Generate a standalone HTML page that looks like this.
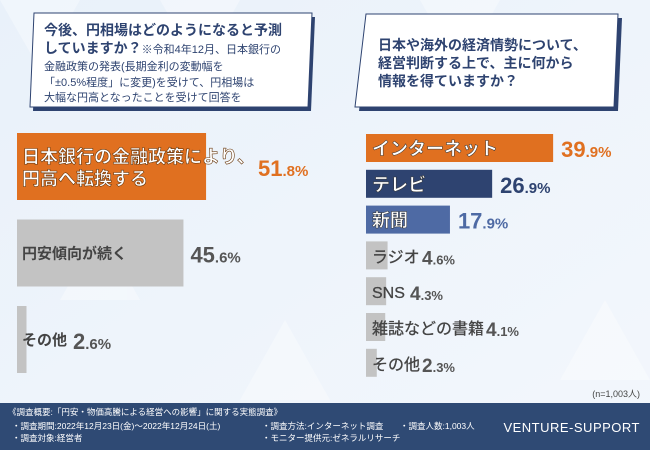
<!DOCTYPE html>
<html><head><meta charset="utf-8"><style>
body{margin:0;width:650px;height:450px;overflow:hidden;font-family:"Liberation Sans","Noto Sans CJK JP",sans-serif;}
svg text{font-family:"Liberation Sans","Noto Sans CJK JP",sans-serif;}
</style></head><body>
<svg id="c" width="650" height="450" viewBox="0 0 650 450">
<defs><linearGradient id="bg" x1="0" y1="0" x2="1" y2="1"><stop offset="0" stop-color="#e9f1fa"/><stop offset="1" stop-color="#f3f7fc"/></linearGradient></defs>
<rect width="650" height="450" fill="url(#bg)"/>
<g opacity="0.35" fill="#ffffff">
<polygon points="0,0 80,0 40,70"/><polygon points="160,0 240,0 200,70"/><polygon points="420,0 500,0 460,70"/><polygon points="560,380 650,380 605,300"/><polygon points="240,400 330,400 285,320"/><polygon points="60,300 140,300 100,230"/>
</g>
<g>
<polygon points="37,17 315,17 311,111 33,111" fill="#2e4370"/>
<polygon points="34,13 312,13 308,107 30,107" fill="#fff" stroke="#2e4370" stroke-width="1"/>
<text x="44" y="35" font-size="14" fill="#2e4370" font-weight="bold">今後、円相場はどのようになると予測</text>
<text x="44" y="53" font-size="14" fill="#2e4370" font-weight="bold">していますか？<tspan font-size="11" font-weight="normal">※令和4年12月、日本銀行の</tspan></text>
<text x="44" y="70" font-size="11" fill="#2e4370">金融政策の発表(長期金利の変動幅を</text>
<text x="44" y="86" font-size="11" fill="#2e4370">「±0.5%程度」に変更)を受けて、円相場は</text>
<text x="44" y="101" font-size="11" fill="#2e4370">大幅な円高となったことを受けて回答を</text>
</g>
<g>
<polygon points="370,18 622,18 618,111 359,111" fill="#2e4370"/>
<polygon points="366,14 618,14 614,107 355,107" fill="#fff" stroke="#2e4370" stroke-width="1"/>
<text x="378" y="50" font-size="14" fill="#2e4370" font-weight="bold">日本や海外の経済情勢について、</text>
<text x="378" y="68" font-size="14" fill="#2e4370" font-weight="bold">経営判断する上で、主に何から</text>
<text x="378" y="86" font-size="14" fill="#2e4370" font-weight="bold">情報を得ていますか？</text>
</g>
<g id="left"></g><g id="right"></g>
<text x="640" y="397" font-size="9" fill="#444" text-anchor="end">(n=1,003人)</text>
<g>
<rect x="0" y="403" width="650" height="47" fill="#2f4a74"/>
<g font-size="8.5" fill="#fff">
<text x="8" y="415">《調査概要:「円安・物価高騰による経営への影響」に関する実態調査》</text>
<text x="12" y="429">・調査期間:2022年12月23日(金)～2022年12月24日(土)</text>
<text x="12" y="441">・調査対象:経営者</text>
<text x="262" y="429">・調査方法:インターネット調査</text>
<text x="262" y="441">・モニター提供元:ゼネラルリサーチ</text>
<text x="400" y="429">・調査人数:1,003人</text>
</g>
<text x="640" y="432" font-size="13" fill="#fff" text-anchor="end" letter-spacing="0.5">VENTURE-SUPPORT</text>
</g>
</svg>
<script>
const leftCats=["日本銀行の金融政策により、|円高へ転換する","円安傾向が続く","その他"];
const leftVals=[51.8,45.6,2.6];
const rightCats=["インターネット","テレビ","新聞","ラジオ","SNS","雑誌などの書籍","その他"];
const rightVals=[39.9,26.9,17.9,4.6,4.3,4.1,2.3];
const NS="http://www.w3.org/2000/svg";
function mk(t,a,p){const e=document.createElementNS(NS,t);for(const k in a)e.setAttribute(k,a[k]);p.appendChild(e);return e;}
const lx=v=>v*3.65, rx=v=>v*4.69;
const L=document.getElementById('left'),R=document.getElementById('right');
const lcol=["#e07020","#c3c3c3","#c3c3c3"], lval=["#e07020","#555","#555"];
leftVals.forEach((v,i)=>{
 const y=133+i*86.5,w=lx(v);
 const r=mk('rect',{x:17,y:y,width:w,height:67,fill:lcol[i]},L);
 
 
 const parts=leftCats[i].split('|');
 const big=i==0;
 const t=mk('text',{x:22,y:big?y+30:y+39,'font-size':big?18:15,'font-weight':'bold',fill:big?'#fff':'#444',stroke:big?'#6a3a10':'none','stroke-width':big?0.6:0},L);
 
 
 parts.forEach((p,j)=>{const s=mk('tspan',{x:22,dy:j?22:0},t);s.textContent=p;});
 const s=v.toFixed(1).split('.');
 const vx=big?258:(i==2?73:17+w+7);
 const vt=mk('text',{x:vx,y:y+43,'font-size':22,'font-weight':'bold',fill:lval[i]},L);
 
 
 vt.innerHTML=s[0]+'<tspan font-size="15">.'+s[1]+'%</tspan>';
});
const rcol=["#e07020","#2e4370","#4e6aa4","#c3c3c3","#c3c3c3","#c3c3c3","#c3c3c3"];
const rval=["#e07020","#2e4370","#4e6aa4","#555","#555","#555","#555"];
rightVals.forEach((v,i)=>{
 const y=134+i*35.8,w=rx(v);
 const r=mk('rect',{x:366,y:y,width:w,height:28,fill:rcol[i]},R);
 
 
 const big=i<3;
 const t=mk('text',{x:372,y:y+21,'font-size':big?18:16,'font-weight':big?'bold':'normal',fill:big?'#fff':'#444',stroke:big?'#333':'#444','stroke-width':big?0.5:0.3},R);
 
 
 t.textContent=rightCats[i];
 const lw=big?0:(rightCats[i]=="SNS"?36:rightCats[i].length*16);
 const s=v.toFixed(1).split('.');
 const vt=mk('text',{x:big?366+w+8:374+lw,y:y+23,'font-size':big?22:19,'font-weight':'bold',fill:rval[i]},R);
 
 
 vt.innerHTML=s[0]+'<tspan font-size="'+(big?15:13)+'">.'+s[1]+'%</tspan>';
});
</script>
</body></html>
